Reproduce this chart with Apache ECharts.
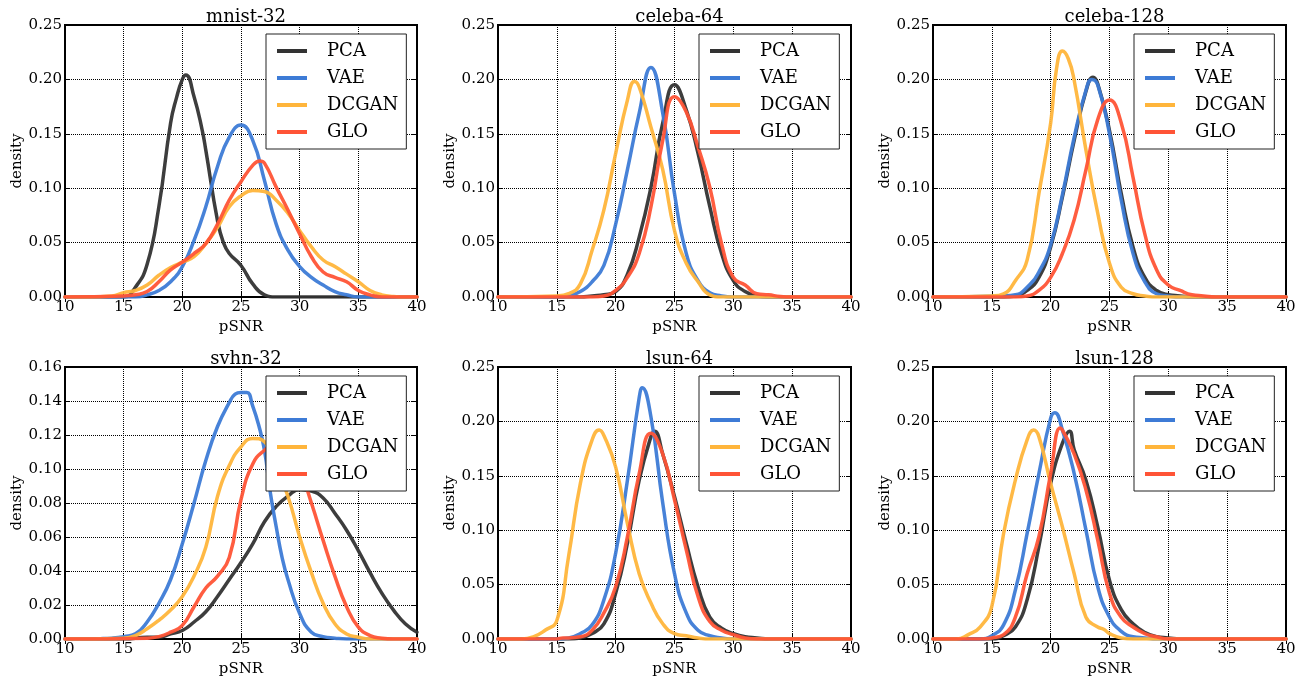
<!DOCTYPE html>
<html>
<head>
<meta charset="utf-8">
<script src="https://cdn.jsdelivr.net/npm/echarts@6/dist/echarts.min.js"></script>
<style>html,body{margin:0;padding:0;background:#fff}#c{width:1307px;height:683px}</style>
</head>
<body>
<div id="c"></div>
<script>
// ---- data (pSNR, density) ----
const titles = ['mnist-32', 'celeba-64', 'celeba-128', 'svhn-32', 'lsun-64', 'lsun-128'];
const seriesNames = ['PCA', 'VAE', 'DCGAN', 'GLO'];
const xTicks = [10, 15, 20, 25, 30, 35, 40];
const yMaxes = [0.25, 0.25, 0.25, 0.16, 0.25, 0.25];
const yIntervals = [0.05, 0.05, 0.05, 0.02, 0.05, 0.05];

const mnistPCA = [[10,0],[15,0],[16,0.009],[17,0.03],[18,0.083],[19,0.16],[19.5,0.183],[20,0.2],[20.3,0.204],[21,0.184],[21.7,0.153],[22,0.135],[23,0.07],[23.5,0.05],[24,0.04],[25,0.029],[26,0.012],[27,0.002],[28,0],[40,0]];
const mnistVAE = [[10,0],[16,0],[17,0.002],[18,0.006],[19,0.014],[20,0.028],[21,0.052],[22,0.083],[23,0.12],[24,0.147],[25,0.158],[26,0.144],[27,0.107],[28,0.067],[29,0.043],[30,0.028],[31,0.018],[32,0.011],[33,0.005],[34,0.002],[35,0],[40,0]];
const mnistDCGAN = [[10,0],[12,0],[14,0.001],[15,0.004],[16,0.006],[17,0.011],[18,0.02],[19,0.027],[20,0.032],[21,0.037],[22,0.049],[23,0.064],[24,0.083],[25,0.093],[26,0.098],[27,0.097],[28,0.089],[29,0.077],[30,0.061],[31,0.046],[32,0.034],[33,0.028],[34,0.021],[35,0.014],[36,0.006],[37,0.002],[38,0.0005],[39,0],[40,0]];
const mnistGLO = [[10,0],[15,0.001],[16,0.002],[17,0.005],[18,0.014],[19,0.025],[20,0.032],[21,0.04],[22,0.049],[23,0.067],[24,0.089],[25,0.106],[26,0.121],[26.6,0.125],[27,0.123],[28,0.101],[29,0.08],[30,0.058],[31,0.037],[32,0.023],[33,0.018],[34,0.014],[35,0.006],[36,0.002],[37,0],[40,0]];

const celeba64PCA = [[10,0],[17,0],[18,0.001],[19,0.002],[20,0.005],[21,0.021],[22,0.055],[23,0.101],[24,0.16],[25,0.195],[26,0.172],[27,0.132],[28,0.083],[29,0.04],[30,0.015],[31,0.005],[32,0.001],[33,0],[40,0]];
const celeba64VAE = [[10,0],[15,0],[16,0.001],[17,0.005],[18,0.014],[19,0.029],[20,0.067],[21,0.117],[22,0.169],[23,0.211],[24,0.169],[25,0.095],[26,0.04],[27,0.015],[28,0.004],[29,0.001],[30,0],[40,0]];
const celeba64DCGAN = [[10,0],[15,0.001],[16,0.003],[17,0.012],[18,0.043],[19,0.08],[20,0.132],[21,0.181],[21.6,0.198],[22,0.193],[23,0.156],[24,0.117],[25,0.061],[26,0.031],[27,0.014],[28,0.002],[29,0],[40,0]];
const celeba64GLO = [[10,0],[18,0],[19,0.001],[20,0.006],[21,0.018],[22,0.04],[23,0.083],[24,0.144],[25,0.184],[26,0.17],[27,0.138],[28,0.101],[29,0.049],[30,0.018],[31,0.011],[32,0.003],[33,0.002],[34,0.0005],[35,0],[40,0]];

const celeba128PCA = [[10,0],[16,0],[17,0.001],[18,0.006],[19,0.018],[20,0.046],[21,0.092],[22,0.144],[23,0.189],[23.6,0.202],[24,0.196],[25,0.153],[26,0.095],[27,0.046],[28,0.018],[29,0.006],[30,0.002],[31,0.001],[32,0],[40,0]];
const celeba128VAE = [[10,0],[16,0.001],[17,0.002],[18,0.009],[19,0.023],[20,0.048],[21,0.094],[22,0.147],[23,0.19],[23.5,0.2],[24,0.195],[25,0.15],[26,0.089],[27,0.04],[28,0.014],[29,0.003],[30,0.001],[31,0],[40,0]];
const celeba128DCGAN = [[10,0],[15,0.001],[16,0.003],[17,0.015],[18,0.034],[19,0.095],[20,0.16],[20.5,0.21],[21,0.226],[21.5,0.219],[22,0.199],[23,0.135],[24,0.077],[25,0.031],[26,0.009],[27,0.003],[28,0.001],[29,0],[40,0]];
const celeba128GLO = [[10,0],[17,0],[18,0.001],[19,0.006],[20,0.018],[21,0.04],[22,0.071],[23,0.117],[24,0.163],[25,0.181],[26,0.16],[27,0.11],[28,0.058],[29,0.025],[30,0.011],[31,0.006],[32,0.002],[33,0.001],[34,0],[40,0]];

const svhnPCA = [[10,0],[15,0],[17,0.001],[18,0.001],[19,0.003],[20,0.005],[21,0.01],[22,0.016],[23,0.025],[24,0.035],[25,0.045],[26,0.056],[27,0.069],[28,0.078],[29,0.084],[30,0.088],[31,0.087],[32,0.083],[33,0.074],[34,0.064],[35,0.052],[36,0.039],[37,0.027],[38,0.017],[39,0.009],[40,0.004]];
const svhnVAE = [[10,0],[13,0.0002],[14,0.0005],[15,0.0014],[16,0.003],[17,0.01],[18,0.021],[19,0.035],[20,0.056],[21,0.08],[22,0.105],[23,0.125],[24,0.139],[24.5,0.144],[25,0.145],[25.5,0.145],[26,0.137],[26.5,0.126],[27,0.111],[27.5,0.086],[28,0.066],[28.5,0.048],[29,0.035],[30,0.015],[31,0.004],[32,0.0014],[33,0.0005],[34,0],[40,0]];
const svhnDCGAN = [[10,0],[15,0.0005],[16,0.002],[17,0.006],[18,0.011],[19,0.017],[20,0.025],[21,0.037],[22,0.054],[23,0.084],[24,0.102],[25,0.113],[26,0.118],[27,0.116],[28,0.101],[29,0.084],[30,0.06],[31,0.039],[32,0.021],[33,0.009],[34,0.003],[35,0.001],[36,0],[40,0]];
const svhnGLO = [[10,0],[17,0.0005],[18,0.0014],[19,0.004],[20,0.008],[21,0.019],[22,0.03],[23,0.037],[24,0.048],[25,0.082],[26,0.103],[27,0.111],[28,0.115],[29,0.113],[30,0.1],[31,0.08],[32,0.058],[33,0.037],[34,0.019],[35,0.007],[36,0.002],[37,0.0005],[38,0],[40,0]];

const lsun64PCA = [[10,0],[16,0],[17,0.001],[18,0.005],[19,0.014],[20,0.042],[21,0.088],[22,0.146],[23,0.186],[23.3,0.191],[24,0.17],[25,0.131],[26,0.088],[27,0.048],[28,0.02],[29,0.01],[30,0.005],[31,0.002],[32,0.001],[33,0],[40,0]];
const lsun64VAE = [[10,0],[15,0],[16,0.001],[17,0.005],[18,0.013],[19,0.036],[20,0.079],[21,0.146],[22,0.222],[22.25,0.231],[23,0.204],[24,0.125],[25,0.06],[26,0.024],[27,0.008],[28,0.003],[29,0.001],[30,0],[40,0]];
const lsun64DCGAN = [[10,0],[12,0],[13,0.002],[14,0.008],[15,0.017],[16,0.076],[17,0.143],[18,0.183],[18.6,0.192],[19,0.187],[20,0.158],[21,0.106],[22,0.06],[23,0.033],[24,0.014],[25,0.005],[26,0.003],[27,0.001],[28,0],[40,0]];
const lsun64GLO = [[10,0],[15,0],[15.5,0.001],[16,0.001],[17,0.002],[18,0.008],[19,0.024],[20,0.048],[21,0.094],[22,0.152],[23,0.189],[24,0.17],[25,0.128],[26,0.082],[27,0.039],[28,0.016],[29,0.008],[30,0.004],[31,0.001],[32,0],[40,0]];

const lsun128PCA = [[10,0],[15,0],[16,0.003],[17,0.011],[18,0.036],[19,0.085],[20,0.143],[21,0.18],[21.6,0.191],[22,0.174],[23,0.146],[24,0.103],[25,0.054],[26,0.027],[27,0.014],[28,0.006],[29,0.002],[30,0.001],[31,0],[40,0]];
const lsun128VAE = [[10,0],[14,0],[15,0.003],[16,0.013],[17,0.045],[18,0.097],[19,0.152],[20,0.203],[20.35,0.208],[21,0.192],[22,0.152],[23,0.1],[24,0.048],[25,0.02],[26,0.007],[27,0.002],[28,0.001],[29,0],[40,0]];
const lsun128DCGAN = [[10,0],[12,0],[13,0.004],[14,0.011],[15,0.03],[16,0.097],[17,0.146],[18,0.183],[18.55,0.192],[19,0.186],[20,0.143],[21,0.103],[22,0.06],[23,0.02],[24,0.011],[24.5,0.009],[25,0.005],[26,0.001],[27,0],[40,0]];
const lsun128GLO = [[10,0],[14,0],[15,0.001],[16,0.004],[17,0.02],[18,0.06],[19,0.094],[20,0.152],[20.8,0.194],[21,0.192],[22,0.17],[23,0.137],[24,0.091],[25,0.042],[26,0.02],[27,0.011],[28,0.005],[29,0.002],[30,0],[40,0]];

const plotData = [
  [mnistPCA, mnistVAE, mnistDCGAN, mnistGLO],
  [celeba64PCA, celeba64VAE, celeba64DCGAN, celeba64GLO],
  [celeba128PCA, celeba128VAE, celeba128DCGAN, celeba128GLO],
  [svhnPCA, svhnVAE, svhnDCGAN, svhnGLO],
  [lsun64PCA, lsun64VAE, lsun64DCGAN, lsun64GLO],
  [lsun128PCA, lsun128VAE, lsun128DCGAN, lsun128GLO]
];

// ---- styling / layout ----
const colors = ['#333333', '#3d7bd6', '#ffb53b', '#ff5436'];
const FONT = 'DejaVu Serif';
const lefts = [65, 498, 933];
const widths = [352, 353, 353];
const tops = [25, 367];
const H = 272;

const grids = [], xAxes = [], yAxes = [], series = [], legends = [], titleArr = [];
for (let p = 0; p < 6; p++) {
  const col = p % 3, row = Math.floor(p / 3);
  grids.push({left: lefts[col], top: tops[row], width: widths[col], height: H,
    show: true, borderColor: '#000', borderWidth: 2, backgroundColor: 'transparent', containLabel: false});
  const xBase = {type: 'value', gridIndex: p, min: xTicks[0], max: xTicks[xTicks.length - 1], interval: 5};
  const yBase = {type: 'value', gridIndex: p, min: 0, max: yMaxes[p], interval: yIntervals[p]};
  xAxes.push(Object.assign({}, xBase, {
    position: 'bottom',
    name: 'pSNR', nameLocation: 'middle', nameGap: 23,
    nameTextStyle: {fontFamily: FONT, fontSize: 15, color: '#000'},
    axisLine: {show: false},
    axisTick: {show: true, inside: true, length: 5, lineStyle: {color: '#000', width: 1}},
    axisLabel: {fontFamily: FONT, fontSize: 15, color: '#000', margin: 3},
    splitLine: {show: true, lineStyle: {type: [1, 1], color: '#000', width: 1}}
  }));
  xAxes.push(Object.assign({}, xBase, {
    position: 'top', axisLine: {show: false}, axisLabel: {show: false}, splitLine: {show: false},
    axisTick: {show: true, inside: true, length: 5, lineStyle: {color: '#000', width: 1}}
  }));
  yAxes.push(Object.assign({}, yBase, {
    position: 'left',
    name: 'density', nameLocation: 'middle', nameGap: 40, nameRotate: 90,
    nameTextStyle: {fontFamily: FONT, fontSize: 15, color: '#000'},
    axisLine: {show: false},
    axisTick: {show: true, inside: true, length: 5, lineStyle: {color: '#000', width: 1}},
    axisLabel: {fontFamily: FONT, fontSize: 15, color: '#000', margin: 3,
      formatter: v => v.toFixed(2)},
    splitLine: {show: true, lineStyle: {type: [1, 1], color: '#000', width: 1}}
  }));
  yAxes.push(Object.assign({}, yBase, {
    position: 'right', axisLine: {show: false}, axisLabel: {show: false}, splitLine: {show: false},
    axisTick: {show: true, inside: true, length: 5, lineStyle: {color: '#000', width: 1}}
  }));
  titleArr.push({text: titles[p], left: lefts[col] + widths[col] / 2, top: tops[row] - 22,
    textAlign: 'center',
    textStyle: {fontFamily: FONT, fontSize: 18, fontWeight: 'normal', color: '#000'}});
  legends.push({
    data: seriesNames.slice(), orient: 'vertical', selectedMode: false,
    left: lefts[col] + 201, top: tops[row] + 9,
    backgroundColor: '#fff', borderColor: '#222', borderWidth: 1,
    padding: [7, 8, 7, 11], itemWidth: 30, itemHeight: 4, itemGap: 7, icon: 'rect',
    textStyle: {fontFamily: FONT, fontSize: 18, lineHeight: 20, color: '#000', padding: [0, 0, 0, 15]},
    z: 10
  });
  for (let s = 0; s < 4; s++) {
    series.push({
      name: seriesNames[s], type: 'line', xAxisIndex: 2 * p, yAxisIndex: 2 * p,
      data: plotData[p][s], showSymbol: false, symbol: 'none',
      smooth: 0.5,
      lineStyle: {color: colors[s], width: 3.5, opacity: 0.95, join: 'round', cap: 'round'},
      itemStyle: {color: colors[s]},
      clip: true, z: 2 + s * 0.1
    });
  }
}

const chart = echarts.init(document.getElementById('c'), null, {renderer: 'canvas'});
chart.setOption({
  animation: false,
  backgroundColor: '#fff',
  title: titleArr,
  grid: grids,
  xAxis: xAxes,
  yAxis: yAxes,
  legend: legends,
  series: series
});
</script>
</body>
</html>
